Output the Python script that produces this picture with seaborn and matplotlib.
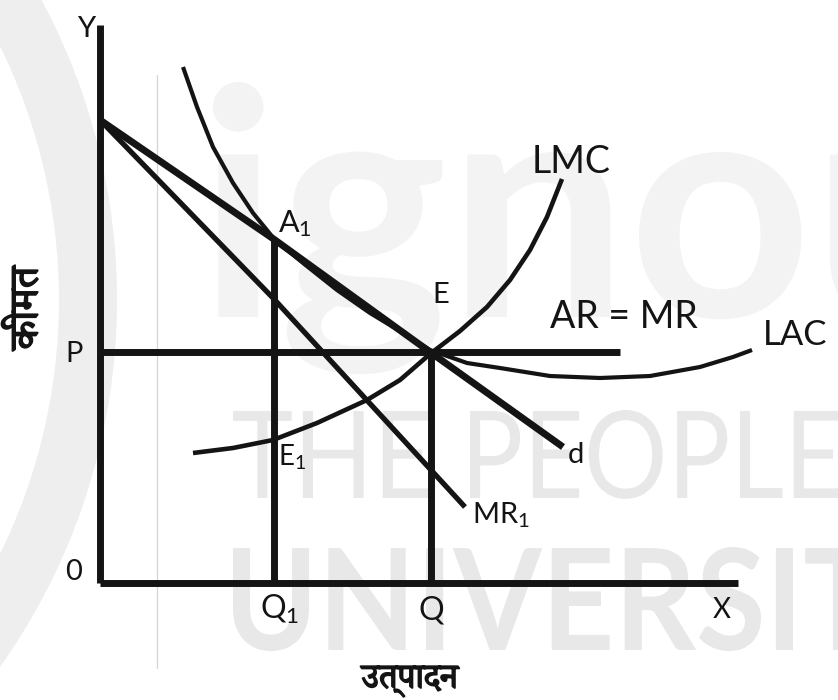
import matplotlib
matplotlib.use("Agg")
import matplotlib.pyplot as plt
import matplotlib.patheffects as pe
import seaborn as sns
from matplotlib import font_manager
from matplotlib.ft2font import FT2Font
from matplotlib.textpath import TextPath
from matplotlib.patches import PathPatch, Wedge
from matplotlib.transforms import Affine2D
from matplotlib.font_manager import FontProperties

# ---- diagram values (output along x, price along y) ----
y_axis_top = 55.8
x_axis_end = 63.8
price_p = 23.1          # AR = MR price line
q_eq = 33.1             # output Q at E
q_one = 17.4            # output Q1
a1_price = 34.3         # A1 on the demand curve above Q1
ar_line_end = 52.0

d_x = [0.0, 17.5, 33.0, 46.3]
d_y = [46.3, 34.3, 23.1, 13.6]

mr1_x = [0.0, 17.3, 36.5]
mr1_y = [46.3, 28.5, 7.6]

lmc_x = [9.3, 13.3, 17.3, 21.7, 26.7, 30.0, 33.0, 36.0, 38.7, 41.0, 43.0, 44.7, 46.2]
lmc_y = [13.0, 13.5, 14.3, 16.0, 18.3, 20.3, 22.9, 25.2, 27.6, 30.3, 33.3, 36.6, 40.4]

lac_x = [8.3, 9.7, 11.3, 13.3, 15.3, 17.5, 20.3, 23.7, 27.0, 30.3, 33.0, 36.7,
         40.0, 45.0, 50.0, 55.0, 60.0, 63.3, 65.2]
lac_y = [51.6, 47.6, 43.6, 40.0, 37.0, 34.3, 32.0, 29.3, 27.0, 25.0, 23.3, 22.0,
         21.5, 20.7, 20.5, 20.7, 21.6, 22.6, 23.3]

y_title = "कीमत"
x_title = "उत्पादन"

sns.set_theme(style="white")
plt.rcParams["font.family"] = ["Lato", "DejaVu Sans"]
plt.rcParams["mathtext.fontset"] = "custom"
plt.rcParams["mathtext.rm"] = "Lato"
plt.rcParams["mathtext.it"] = "Lato:italic"
plt.rcParams["mathtext.bf"] = "Lato:bold"


def family_with(ch):
    names = []
    for f in font_manager.fontManager.ttflist:
        try:
            if ord(ch) in FT2Font(f.fname).get_charmap():
                names.append(f.name)
        except Exception:
            continue
    for pref in ("Noto Serif Devanagari", "Lohit Devanagari", "Noto Sans Devanagari"):
        if pref in names:
            return pref
    return names[0] if names else "DejaVu Sans"


deva = family_with("क")

fig = plt.figure(figsize=(8.38, 7.0), dpi=100)
fig.patch.set_facecolor("white")

# background layer in pixel units for the faint watermark
bg = fig.add_axes([0, 0, 1, 1], zorder=0)
bg.set_xlim(0, 838)
bg.set_ylim(700, 0)
bg.axis("off")


def watermark(text, fit, left, right, top, base, weight, color):
    fp = FontProperties(family="Lato", weight=weight)
    ref = TextPath((0, 0), fit, size=1, prop=fp).get_extents()
    path = TextPath((0, 0), text, size=1, prop=fp)
    sx = (right - left) / ref.width
    sy = (base - top) / ref.y1
    tr = Affine2D().translate(-ref.x0, 0).scale(sx, -sy).translate(left, base)
    bg.add_patch(PathPatch(path, transform=tr + bg.transData, fc=color, ec="none"))


bg.add_patch(Wedge((-517, 300), 634, 0, 360, width=58, fc="#eeeeee", ec="none"))
watermark("ignou", "ignou", 213, 973, 82, 317, "bold", "#f3f3f3")
watermark("THE PEOPLE'S", "THE PEOPLE", 233, 840, 410, 498, "normal", "#e8e8e8")
watermark("UNIVERSITY", "UNIVERSI", 233, 793, 547, 650, "bold", "#e8e8e8")
bg.plot([157, 157], [75, 668], color="#d4d4d4", lw=0.9)

# diagram layer
ax = fig.add_axes([0, 0, 1, 1], zorder=1)
ax.patch.set_alpha(0)
ax.set_xlim(-10, 73.8)
ax.set_ylim(-11.7, 58.3)
ax.axis("off")

ink = "#141414"


def seg(xs, ys, lw):
    sns.lineplot(x=xs, y=ys, ax=ax, color=ink, linewidth=lw, sort=False,
                 estimator=None, legend=False)
    ax.lines[-1].set_solid_capstyle("butt")
    ax.lines[-1].set_solid_joinstyle("round")


# axes
seg([0, 0], [0, y_axis_top], 5.0)
seg([0, x_axis_end], [0, 0], 5.0)
# price line and output verticals
seg([0, ar_line_end], [price_p, price_p], 5.0)
seg([q_one, q_one], [0, a1_price], 5.0)
seg([q_eq, q_eq], [0, price_p], 5.0)
# curves
seg(d_x, d_y, 5.0)
seg(mr1_x, mr1_y, 3.8)
seg(lac_x, lac_y, 3.0)
seg(lmc_x, lmc_y, 3.3)

txt = dict(color=ink, va="baseline", ha="left")
ax.text(-2.3, 54.6, "Y", fontsize=21, **txt)
ax.text(-3.5, 22.1, "P", fontsize=21, **txt)
ax.text(-3.5, 0.3, "0", fontsize=21, **txt)
ax.text(61.3, -3.5, "X", fontsize=20, **txt)
ax.text(16.0, -3.6, r"Q$_1$", fontsize=23, **txt)
ax.text(31.8, -3.6, "Q", fontsize=23, **txt)
ax.text(17.8, 35.1, r"A$_1$", fontsize=22, **txt)
ax.text(33.2, 28.0, "E", fontsize=21, **txt)
ax.text(17.8, 11.8, r"E$_1$", fontsize=20, **txt)
ax.text(46.8, 12.0, "d", fontsize=21, **txt)
ax.text(37.2, 6.0, r"MR$_1$", fontsize=21, **txt)
ax.text(43.2, 41.0, "LMC", fontsize=27, **txt)
ax.text(45.0, 25.5, "AR = MR", fontsize=27, **txt)
ax.text(66.3, 23.8, "LAC", fontsize=25, **txt)

bold_ink = [pe.withStroke(linewidth=1.2, foreground=ink)]
ax.text(-7.3, 27.5, y_title, rotation=90, fontsize=29, fontweight="bold",
        family=[deva, "DejaVu Sans"], color=ink, ha="center", va="center",
        path_effects=bold_ink)
ax.text(31.0, -8.0, x_title, fontsize=25, fontweight="bold",
        family=[deva, "DejaVu Sans"], color=ink, ha="center", va="top",
        path_effects=bold_ink)

fig.savefig("out.png", dpi=100)
